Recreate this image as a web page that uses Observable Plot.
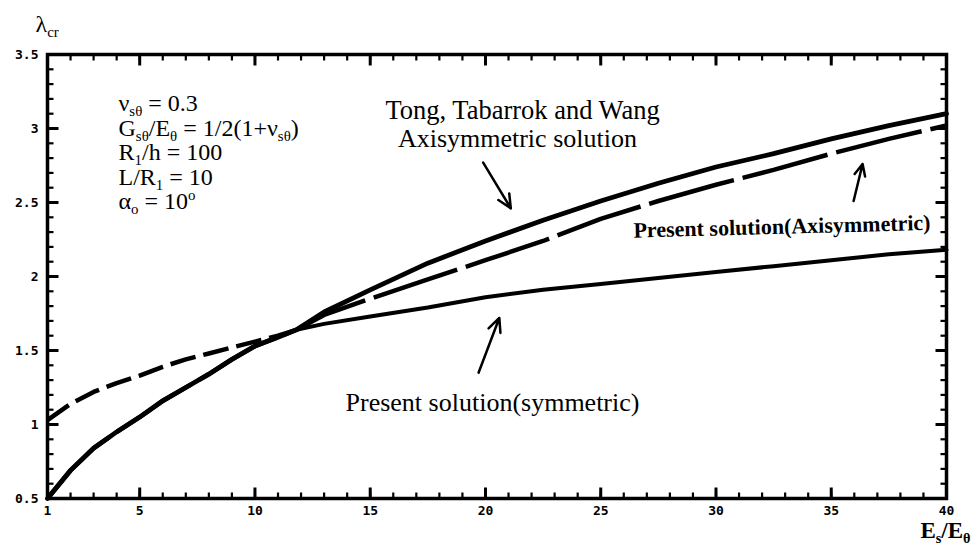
<!DOCTYPE html>
<html>
<head>
<meta charset="utf-8">
<script src="https://cdn.jsdelivr.net/npm/d3@7"></script>
<script src="https://cdn.jsdelivr.net/npm/@observablehq/plot@0.6"></script>
<style>
  html, body { margin: 0; padding: 0; background: #fff; }
  #chart svg { display: block; }
</style>
</head>
<body>
<div id="chart"></div>
<script>
// ---- data (Es/Eθ vs λcr) ----
const ratio      = [1, 2, 3, 4, 5, 6, 7, 8, 9, 10, 11, 11.8, 13, 15, 17.5, 20, 22.5, 25, 27.5, 30, 32.5, 35, 37.5, 40];
const tongAxi    = [0.5, 0.69, 0.84, 0.95, 1.05, 1.16, 1.25, 1.34, 1.44, 1.53, 1.59, 1.64, 1.76, 1.91, 2.09, 2.24, 2.38, 2.51, 2.63, 2.74, 2.83, 2.93, 3.02, 3.10];
const presentAxi = [0.5, 0.69, 0.84, 0.95, 1.05, 1.16, 1.25, 1.34, 1.44, 1.53, 1.59, 1.64, 1.74, 1.85, 1.98, 2.11, 2.24, 2.39, 2.51, 2.62, 2.72, 2.83, 2.93, 3.02];
const presentSym = [1.03, 1.14, 1.22, 1.28, 1.33, 1.39, 1.44, 1.48, 1.52, 1.56, 1.60, 1.64, 1.68, 1.73, 1.79, 1.86, 1.91, 1.95, 1.99, 2.03, 2.07, 2.11, 2.15, 2.18];
const symSplit   = 11.8;   // symmetric curve drawn dashed below this ratio, solid above

const xDomain = [1, 40];
const yDomain = [0.5, 3.5];
const xTicks      = [1, 5, 10, 15, 20, 25, 30, 35, 40];
const xMajorMarks = [5, 10, 15, 20, 25, 30, 35];
const xMinorMarks = d3.range(2, 40);
const yTicks      = [0.5, 1, 1.5, 2, 2.5, 3, 3.5];
const yMajorMarks = [1, 1.5, 2, 2.5, 3];
const yMinorMarks = d3.range(6, 35).map(d => d / 10);

const paramLines = ["ν_{sθ} = 0.3", "G_{sθ}/E_{θ} = 1/2(1+ν_{sθ})", "R_{1}/h = 100", "L/R_{1} = 10", "α_{o} = 10^{o}"];

// annotation placement (data units)
const paramPos = [[4.08, 3.17], [4.08, 3.0], [4.08, 2.84], [4.08, 2.67], [4.08, 2.51]];
const curveLabels = [
  {text: "Tong, Tabarrok and Wang", x: 15.66, y: 3.12, size: 26.5, weight: "normal", rotate: 0},
  {text: "Axisymmetric solution",   x: 16.2,  y: 2.93, size: 26, weight: "normal", rotate: 0},
  {text: "Present solution(symmetric)", x: 13.93, y: 1.15, size: 26, weight: "normal", rotate: 0},
  {text: "Present solution(Axisymmetric)", x: 26.42, y: 2.31, size: 22, weight: "bold", rotate: -1.5}
];
const arrows = [
  {x1: 19.9, y1: 2.77, x2: 21.1, y2: 2.46},
  {x1: 35.97, y1: 2.51, x2: 36.36, y2: 2.76},
  {x1: 19.7, y1: 1.35, x2: 20.6, y2: 1.72}
];

// ---- tables ----
const tongData = ratio.map((r, i) => ({r, v: tongAxi[i]}));
const axiData  = ratio.map((r, i) => ({r, v: presentAxi[i]}));
const symData  = ratio.map((r, i) => ({r, v: presentSym[i]}));
const params   = paramLines.map((t, i) => ({t, x: paramPos[i][0], y: paramPos[i][1]}));

const serif = "Liberation Serif, Times New Roman, serif";
const mono  = "DejaVu Sans Mono, monospace";

const W = 974, H = 559, mL = 47, mR = 28, mT = 54, mB = 61;
const plotW = W - mL - mR, plotH = H - mT - mB;
const minorLen = 6, majorLen = 11;     // tick lengths in pixels
// convert pixel tick lengths into data-unit offsets along each scale
const xPerPx = (xDomain[1] - xDomain[0]) / plotW;
const yPerPx = (yDomain[1] - yDomain[0]) / plotH;

const tickText = {fontFamily: mono, fontWeight: "bold", fontSize: 13};

function xTickLinks(values, len, width) {
  const d = len * yPerPx;
  return [
    Plot.link(values, {x1: v => v, x2: v => v, y1: () => yDomain[0], y2: () => yDomain[0] + d, stroke: "black", strokeWidth: width}),
    Plot.link(values, {x1: v => v, x2: v => v, y1: () => yDomain[1], y2: () => yDomain[1] - d, stroke: "black", strokeWidth: width})
  ];
}
function yTickLinks(values, len, width) {
  const d = len * xPerPx;
  return [
    Plot.link(values, {y1: v => v, y2: v => v, x1: () => xDomain[0], x2: () => xDomain[0] + d, stroke: "black", strokeWidth: width}),
    Plot.link(values, {y1: v => v, y2: v => v, x1: () => xDomain[1], x2: () => xDomain[1] - d, stroke: "black", strokeWidth: width})
  ];
}

const chart = Plot.plot({
  width: W,
  height: H,
  marginLeft: mL,
  marginRight: mR,
  marginTop: mT,
  marginBottom: mB,
  x: {domain: xDomain},
  y: {domain: yDomain},
  style: {background: "white", color: "black"},
  marks: [
    // tick labels
    Plot.axisX({ticks: xTicks, tickSize: 0, tickPadding: 7, label: null, tickFormat: d => String(d), ...tickText}),
    Plot.axisY({ticks: yTicks, tickSize: 0, tickPadding: 9, label: null, tickFormat: d => String(d), ...tickText}),
    // inward tick marks on all four sides
    ...xTickLinks(xMinorMarks, minorLen, 2.2),
    ...xTickLinks(xMajorMarks, majorLen, 3),
    ...yTickLinks(yMinorMarks, minorLen, 2.2),
    ...yTickLinks(yMajorMarks, majorLen, 3),
    Plot.frame({stroke: "black", fill: "none", strokeWidth: 3.5}),

    // curves
    Plot.line(axiData, {x: "r", y: "v", stroke: "black", strokeWidth: 4.5, strokeDasharray: "88,9", strokeLinecap: "butt"}),
    Plot.line(tongData, {x: "r", y: "v", stroke: "black", strokeWidth: 4.8}),
    Plot.line(symData.filter(d => d.r <= symSplit), {x: "r", y: "v", stroke: "black", strokeWidth: 4.5, strokeDasharray: "26,8", strokeLinecap: "butt"}),
    Plot.line(symData.filter(d => d.r >= symSplit), {x: "r", y: "v", stroke: "black", strokeWidth: 4}),

    // annotations
    Plot.text(params, {x: "x", y: "y", text: "t", textAnchor: "start", lineAnchor: "middle", fontFamily: serif, fontSize: 24, fill: "black"}),
    ...curveLabels.map(l => Plot.text([l], {x: "x", y: "y", text: "text", textAnchor: "start", lineAnchor: "middle", fontFamily: serif, fontSize: l.size, fontWeight: l.weight, rotate: l.rotate, fill: "black"})),
    Plot.arrow(arrows, {x1: "x1", y1: "y1", x2: "x2", y2: "y2", stroke: "black", strokeWidth: 2.5, headLength: 9, headAngle: 50}),

    // axis titles
    Plot.text(["λ_{cr}"], {frameAnchor: "top-left", text: d => d, dx: -12, dy: -30, textAnchor: "start", lineAnchor: "middle", fontFamily: serif, fontSize: 24, fill: "black"}),
    Plot.text(["E_{s}/E_{θ}"], {frameAnchor: "bottom-right", text: d => d, dx: 24, dy: 32, textAnchor: "end", lineAnchor: "middle", fontFamily: serif, fontSize: 23, fontWeight: "bold", fill: "black"})
  ]
});

// render _{sub} and ^{sup} markup as real tspans
function richify(svg) {
  const NS = "http://www.w3.org/2000/svg";
  svg.querySelectorAll("text").forEach(t => {
    const s = t.textContent;
    if (!/[_^]\{/.test(s)) return;
    let el = t, fs = NaN;
    while (el && isNaN(fs)) { fs = parseFloat(el.getAttribute && el.getAttribute("font-size")); el = el.parentNode; }
    if (isNaN(fs)) fs = 20;
    t.textContent = "";
    const re = /([_^])\{([^}]*)\}|([^_^]+)/g;
    let m, cur = 0;
    while ((m = re.exec(s))) {
      const ts = document.createElementNS(NS, "tspan");
      let target = 0, txt = m[3];
      if (m[1]) {
        target = m[1] === "_" ? 0.22 * fs : -0.36 * fs;
        txt = m[2];
        ts.setAttribute("font-size", (0.62 * fs).toFixed(1));
      }
      if (target !== cur) ts.setAttribute("dy", (target - cur).toFixed(1));
      cur = target;
      ts.textContent = txt;
      t.appendChild(ts);
    }
  });
}
richify(chart);
document.getElementById("chart").appendChild(chart);
</script>
</body>
</html>
